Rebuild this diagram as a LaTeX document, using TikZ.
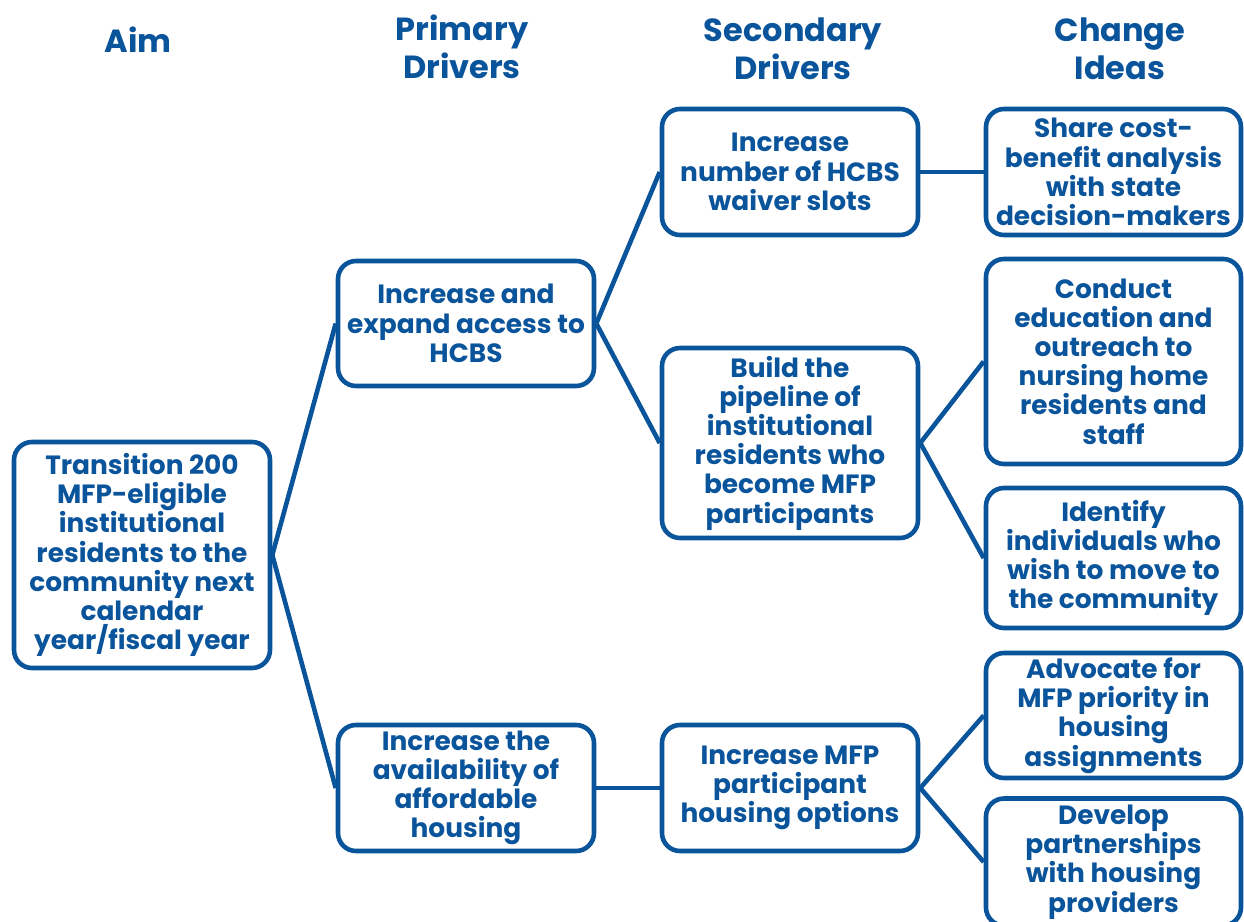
\documentclass[tikz,border=0pt]{standalone}
\usepackage{fontspec}
\setmainfont{Poppins}
\definecolor{dblue}{RGB}{10,84,155}
\begin{document}
\begin{tikzpicture}[x=0.5pt,y=-0.5pt,
  box/.style={draw=dblue, line width=2.3pt, rounded corners=9pt, fill=white, text=dblue,
    align=center, inner sep=0pt, font=\bfseries\fontsize{13.2}{14.6}\selectfont},
  head/.style={text=dblue, align=center, font=\bfseries\fontsize{16}{19}\selectfont},
  link/.style={draw=dblue, line width=2.3pt}]
\useasboundingbox (0,0) rectangle (1244,922);
% headers
\node[head] (hA) at (138,40) {Aim};
\node[head] (hP) at (462,47) {Primary\\Drivers};
\node[head] (hS) at (793,49) {Secondary\\Drivers};
\node[head] (hC) at (1120,49) {Change\\Ideas};
% boxes
\node[box, minimum width=128pt, minimum height=113pt] (aim) at (142,555)
  {Transition 200\\MFP-eligible\\institutional\\residents to the\\community next\\calendar\\year/fiscal year};
\node[box, minimum width=128pt, minimum height=62.5pt] (p1) at (466,323.5)
  {Increase and\\expand access to\\HCBS};
\node[box, minimum width=128pt, minimum height=63pt] (p2) at (466,788)
  {Increase the\\availability of\\affordable\\housing};
\node[box, minimum width=128pt, minimum height=63pt] (s1) at (790,172)
  {Increase\\number of HCBS\\waiver slots};
\node[box, minimum width=128pt, minimum height=95pt] (s2) at (790,443)
  {Build the\\pipeline of\\institutional\\residents who\\become MFP\\participants};
\node[box, minimum width=128pt, minimum height=63pt] (s3) at (790,788)
  {Increase MFP\\participant\\housing options};
\node[box, minimum width=127.5pt, minimum height=63pt] (c1) at (1113.5,172)
  {Share cost-\\benefit analysis\\with state\\decision-makers};
\node[box, minimum width=127.5pt, minimum height=102.5pt] (c2) at (1113.5,361.5)
  {Conduct\\education and\\outreach to\\nursing home\\residents and\\staff};
\node[box, minimum width=127.5pt, minimum height=70pt] (c3) at (1113.5,558)
  {Identify\\individuals who\\wish to move to\\the community};
\node[box, minimum width=127.5pt, minimum height=62.5pt] (c4) at (1113.5,715.5)
  {Advocate for\\MFP priority in\\housing\\assignments};
\node[box, minimum width=127.5pt, minimum height=63.5pt] (c5) at (1113.5,862)
  {Develop\\partnerships\\with housing\\providers};
% connectors
\draw[link] (aim.east) -- (p1.west);
\draw[link] (aim.east) -- (p2.west);
\draw[link] (p1.east) -- (s1.west);
\draw[link] (p1.east) -- (s2.west);
\draw[link] (p2.east) -- (s3.west);
\draw[link] (s1.east) -- (c1.west);
\draw[link] (s2.east) -- (c2.west);
\draw[link] (s2.east) -- (c3.west);
\draw[link] (s3.east) -- (c4.west);
\draw[link] (s3.east) -- (c5.west);
\end{tikzpicture}
\end{document}
